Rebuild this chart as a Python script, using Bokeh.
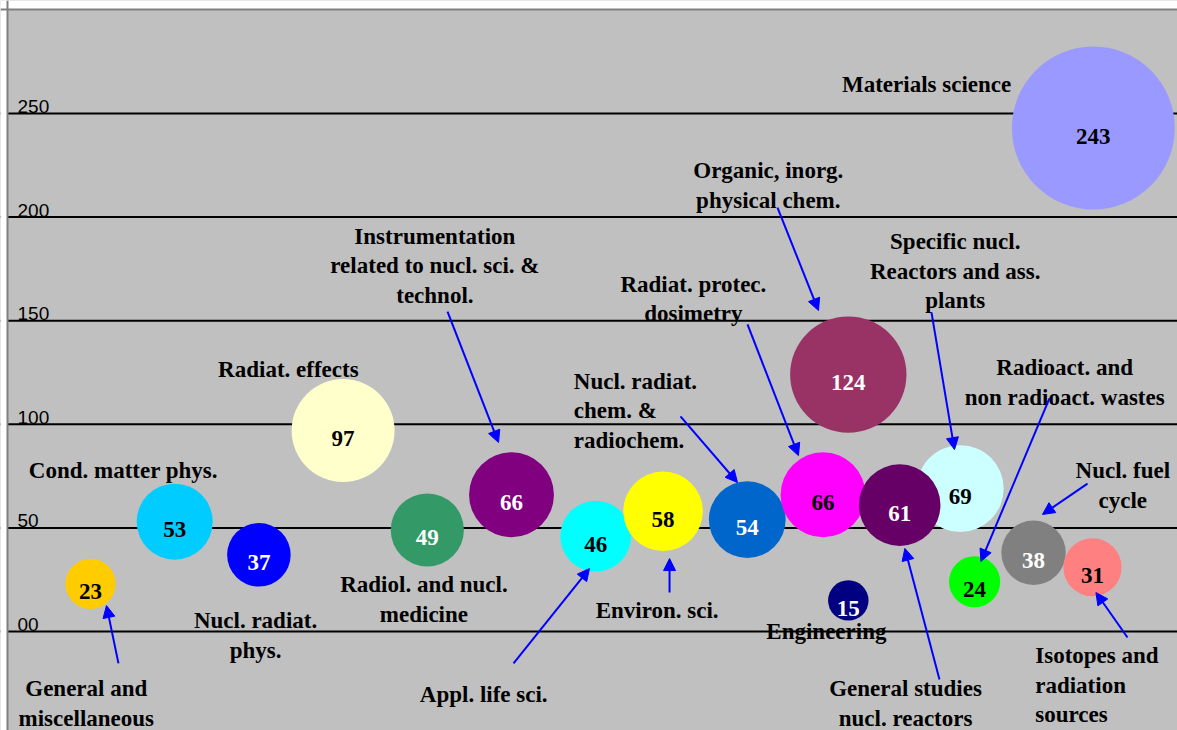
from bokeh.plotting import figure
from bokeh.models import Range1d, Span, Arrow, NormalHead, ColumnDataSource
from bokeh.core.properties import value
from bokeh.embed import file_html
from bokeh.resources import INLINE

# ---------------- data ----------------
categories = [
    "General and miscellaneous", "Cond. matter phys.", "Nucl. radiat. phys.",
    "Radiat. effects", "Radiol. and nucl. medicine",
    "Instrumentation related to nucl. sci. & technol.", "Appl. life sci.",
    "Environ. sci.", "Nucl. radiat. chem. & radiochem.",
    "Radiat. protec. dosimetry", "Organic, inorg. physical chem.",
    "Specific nucl. Reactors and ass. plants", "General studies nucl. reactors",
    "Engineering", "Radioact. and non radioact. wastes", "Nucl. fuel cycle",
    "Isotopes and radiation sources", "Materials science",
]
x_pos = [1.0, 2.0, 3.0, 4.0, 5.0, 6.0, 7.0, 7.8, 8.8, 9.7, 10.0, 11.33, 10.61,
         10.0, 11.5, 12.2, 12.9, 12.91]
counts = [23, 53, 37, 97, 49, 66, 46, 58, 54, 66, 124, 69, 61, 15, 24, 38, 31, 243]
bubble_colors = ["#FFCC00", "#00CCFF", "#0000FF", "#FFFFCC", "#339966", "#800080",
                 "#00FFFF", "#FFFF00", "#0066CC", "#FF00FF", "#993366", "#CCFFFF",
                 "#660066", "#000080", "#00FF00", "#808080", "#FF8080", "#9999FF"]
number_colors = ["black", "black", "white", "black", "white", "white", "black",
                 "black", "white", "black", "white", "black", "white", "white",
                 "black", "white", "black", "black"]
tick_values = [0, 50, 100, 150, 200, 250]
tick_labels = ["00", "50", "100", "150", "200", "250"]

# ---------------- annotation layout (data units) ----------------
# (lines, x, first-baseline y, align)
label_layout = [
    (["Materials science"], 10.93, 260.6, "center"),
    (["Organic, inorg.", "physical chem."], 9.05, 219.1, "center"),
    (["Specific nucl.", "Reactors and ass.", "plants"], 11.27, 184.8, "center"),
    (["Instrumentation", "related to nucl. sci. &", "technol."], 5.09, 187.3, "center"),
    (["Radiat. protec.", "dosimetry"], 8.16, 164.1, "center"),
    (["Radiat. effects"], 3.35, 123.1, "center"),
    (["Nucl. radiat.", "chem. &", "radiochem."], 6.74, 117.3, "left"),
    (["Radioact. and", "non radioact. wastes"], 12.57, 124.0, "center"),
    (["Cond. matter phys."], 1.39, 74.3, "center"),
    (["Nucl. fuel", "cycle"], 13.26, 74.3, "center"),
    (["Radiol. and nucl.", "medicine"], 4.96, 19.3, "center"),
    (["Nucl. radiat.", "phys."], 2.96, 1.9, "center"),
    (["Environ. sci."], 7.73, 6.8, "center"),
    (["Engineering"], 9.74, -3.4, "center"),
    (["General and", "miscellaneous"], 0.95, -30.9, "center"),
    (["Appl. life sci."], 5.67, -33.8, "center"),
    (["General studies", "nucl. reactors"], 10.68, -31.0, "center"),
    (["Isotopes and", "radiation", "sources"], 12.22, -15.0, "left"),
]
# (x_start, y_start, x_end, y_end)
arrow_layout = [
    (1.332, -15.4, 1.190, 12.5),
    (5.240, 154.4, 5.846, 91.2),
    (6.024, -15.4, 6.926, 30.4),
    (7.877, 18.8, 7.877, 35.2),
    (8.007, 103.8, 8.684, 71.9),
    (8.803, 148.2, 9.408, 84.9),
    (9.159, 204.6, 9.646, 154.9),
    (10.988, 154.0, 11.261, 87.8),
    (12.389, 112.5, 11.575, 33.8),
    (12.841, 71.4, 12.306, 56.5),
    (11.083, -23.2, 10.672, 40.1),
    (13.316, -2.9, 12.941, 18.8),
]

W, H = 1177, 730
X0 = 1 - 90 / 84.2
p = figure(width=W, height=H, output_backend="svg", toolbar_location=None,
           x_range=Range1d(X0, X0 + W / 84.2),
           y_range=Range1d((631 - H) / 2.072, 631 / 2.072),
           x_axis_type=None, y_axis_type=None, min_border=0,
           background_fill_color="#C0C0C0", border_fill_color="white")
p.outline_line_color = None
p.xgrid.visible = False
p.ygrid.visible = False

for v in tick_values:
    p.add_layout(Span(location=v, dimension="width", line_color="black",
                      line_width=2, level="underlay"))

# white page margin above / left of the chart area, and its grey frame
p.quad(left=[X0], right=[X0 + 7 / 84.2], bottom=[(631 - H) / 2.072], top=[631 / 2.072],
       fill_color="white", line_color=None)
p.quad(left=[X0], right=[X0 + W / 84.2], bottom=[(631 - 9) / 2.072], top=[631 / 2.072],
       fill_color="white", line_color=None)
p.add_layout(Span(location=X0 + 7 / 84.2, dimension="height", line_color="#808080",
                  line_width=2))
p.add_layout(Span(location=(631 - 9) / 2.072, dimension="width", line_color="#808080",
                  line_width=2))

# y tick labels inside plot
p.text(x=[X0 + 17 / 84.2] * len(tick_values), y=tick_values, text=tick_labels,
       text_font=value("Liberation Sans"), text_font_size="19px",
       text_color="black", text_baseline="alphabetic", text_align="left",
       y_offset=-7)

# bubbles
src = ColumnDataSource(dict(
    x=x_pos, y=counts, size=[10.45 * c ** 0.5 for c in counts],
    color=bubble_colors, label=[str(c) for c in counts], tcolor=number_colors))
p.scatter("x", "y", size="size", fill_color="color", line_color=None, source=src)
p.text("x", "y", text="label", text_color="tcolor", source=src,
       text_font=value("Liberation Serif"), text_font_style="bold",
       text_font_size="23px", text_align="center", text_baseline="alphabetic",
       y_offset=8)

# category labels
for align in ("center", "left"):
    xs, ys, ts, offs = [], [], [], []
    for lines, lx, ly, al in label_layout:
        if al != align:
            continue
        for i, t in enumerate(lines):
            xs.append(lx); ys.append(ly); ts.append(t); offs.append(i * 29.5 - 7)
    p.text(x=xs, y=ys, text=ts, y_offset=offs, text_color="black",
           text_font=value("Liberation Serif"), text_font_style="bold",
           text_font_size="23px", text_align=align, text_baseline="alphabetic")

for x0, y0, x1, y1 in arrow_layout:
    p.add_layout(Arrow(end=NormalHead(size=12, fill_color="#0000FF",
                                      line_color="#0000FF", line_width=1),
                       x_start=x0, y_start=y0, x_end=x1, y_end=y1,
                       line_color="#0000FF", line_width=2))

open("out.html", "w").write(file_html(p, INLINE))
